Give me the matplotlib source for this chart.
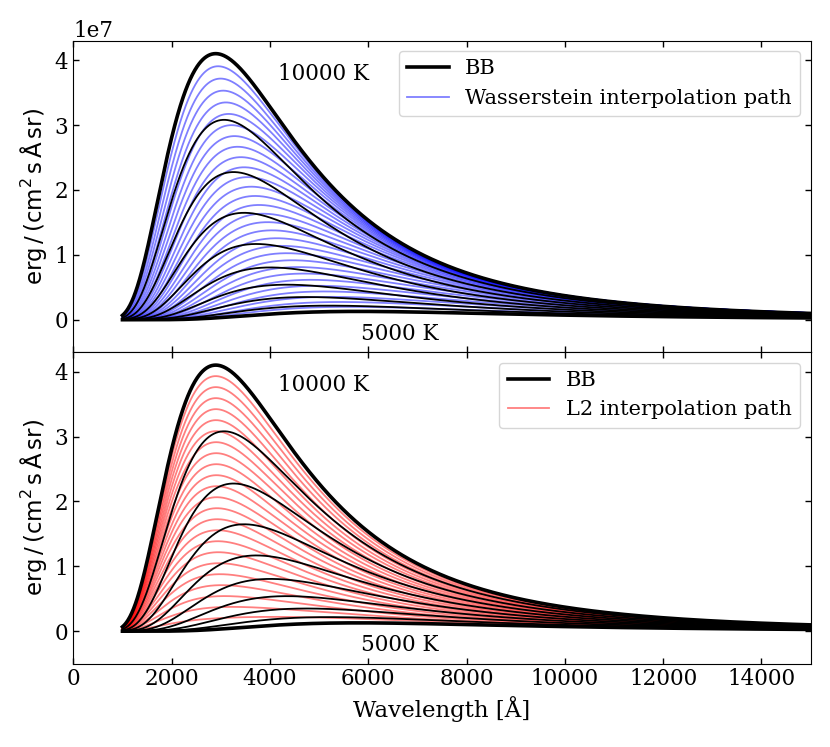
import numpy as np
import matplotlib.pyplot as plt

plt.rcParams['font.family'] = 'DejaVu Serif'
plt.rcParams['mathtext.fontset'] = 'dejavusans'

# Blackbody temperatures [K] drawn in black
bb_temps = [5000, 5556, 6111, 6667, 7222, 7778, 8333, 8889, 9444, 10000]
t_start, t_end = 5000, 10000
# number of steps along each interpolation path
n_w2 = 30
n_l2 = 24
wave_min, wave_max = 1000, 20000  # Angstrom

h, c, k = 6.626e-27, 2.998e10, 1.381e-16


def planck(wl_ang, T):
    wl = wl_ang * 1e-8
    b = 2 * h * c**2 / wl**5 / np.expm1(h * c / (wl * k * T))
    return b * 1e-8  # per Angstrom


wl = np.linspace(wave_min, wave_max, 2000)
b0 = planck(wl, t_start)
b1 = planck(wl, t_end)

fig, axes = plt.subplots(2, 1, figsize=(8.3, 7.47), dpi=100, sharex=True)
fig.subplots_adjust(left=0.0883, right=0.9766, top=0.9455, bottom=0.1116, hspace=0)


def draw_bb(ax):
    handle = None
    for T in bb_temps:
        lw = 2.6 if T in (t_start, t_end) else 1.3
        line, = ax.plot(wl, planck(wl, T), color='black', lw=lw, zorder=3)
        if T == t_end:
            handle = line
    return handle


# Wasserstein path: displacement of the spectrum with linearly mixed flux
ax = axes[0]
for t in np.linspace(0, 1, n_w2 + 1):
    Tt = (1 - t) * t_start + t * t_end
    mass = (1 - t) * t_start**4 + t * t_end**4
    curve = mass / Tt**4 * planck(wl, Tt)
    path, = ax.plot(wl, curve, color='blue', alpha=0.5, lw=1.3)
bb = draw_bb(ax)
ax.legend([bb, path], ['BB', 'Wasserstein interpolation path'],
          loc='upper right', fontsize=15)

# L2 path: straight mixture of the two end spectra
ax = axes[1]
for t in np.linspace(0, 1, n_l2 + 1):
    path, = ax.plot(wl, (1 - t) * b0 + t * b1, color='red', alpha=0.5, lw=1.3)
bb = draw_bb(ax)
ax.legend([bb, path], ['BB', 'L2 interpolation path'],
          loc='upper right', fontsize=15)

for ax in axes:
    ax.set_xlim(0, 15000)
    ax.set_ylim(-0.5e7, 4.3e7)
    ax.text(4170, 3.7e7, '10000 K', fontsize=15.5)
    ax.text(5850, -0.31e7, '5000 K', fontsize=15.5)
    ax.tick_params(direction='in', top=True, right=True, labelsize=15.5,
                   length=4.5, width=1)
    ax.set_ylabel(r'$\mathrm{erg\,/\,(cm^{2}\,s\,\AA\,sr)}$', fontsize=16.5)
    ax.yaxis.get_offset_text().set_fontsize(15.5)

axes[1].yaxis.get_offset_text().set_visible(False)
axes[1].set_xlabel('Wavelength [Å]', fontsize=16.5)

fig.savefig('out.png', dpi=100)
